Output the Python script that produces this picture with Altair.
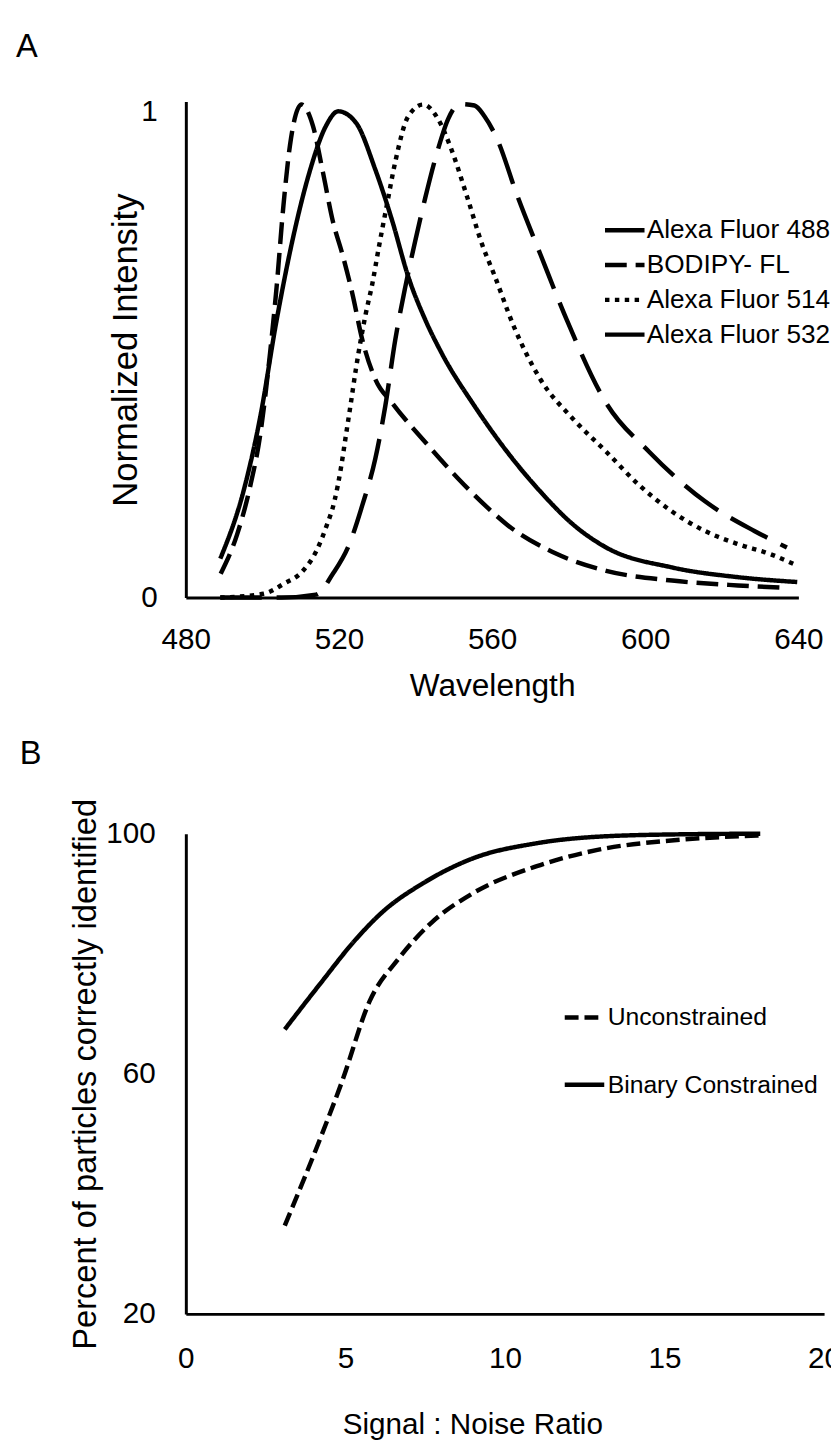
import altair as alt
import pandas as pd

FONT = "Liberation Sans"

# ---------------- Panel A: normalized emission spectra ----------------
dyes = ["Alexa Fluor 488", "BODIPY- FL", "Alexa Fluor 514", "Alexa Fluor 532"]

wl_488 = [489, 495.1, 499.4, 503.7, 508, 512.3, 516.6, 519.8, 524.4, 529.5, 533.9,
          538.1, 542.5, 546.8, 555.4, 563.9, 572.6, 581.2, 589.8, 607, 624.2, 639.7]
in_488 = [0.08, 0.22, 0.37, 0.57, 0.74, 0.875, 0.97, 1.0, 0.977, 0.88, 0.775,
          0.66, 0.572, 0.503, 0.394, 0.30, 0.218, 0.15, 0.103, 0.062, 0.042, 0.032]

wl_bod = [489.1, 493.4, 496.9, 499.4, 502, 503.7, 505.5, 507.2, 510.2, 513.2, 515.8,
          518.4, 520.9, 523.5, 526.1, 529.5, 533.9, 542.5, 551.1, 558.8, 563.9,
          576.8, 589.8, 607, 624.2, 637]
in_bod = [0.049, 0.13, 0.232, 0.333, 0.503, 0.638, 0.807, 0.93, 1.014, 0.97, 0.875,
          0.774, 0.706, 0.625, 0.53, 0.449, 0.40, 0.32, 0.245, 0.185, 0.15,
          0.09, 0.055, 0.035, 0.025, 0.02]

wl_514 = [489, 500.3, 505.5, 510.6, 514.1, 516.6, 518.8, 520.5, 521.8, 523.1, 524.4,
          525.7, 527, 528.7, 530.4, 532.5, 534.7, 538.1, 542, 545.9, 549.3, 553.6,
          557.4, 560.5, 565.7, 572.6, 581.2, 589.8, 598.3, 607, 615.6, 624.2, 632.8, 638.8]
in_514 = [0.0, 0.008, 0.028, 0.055, 0.096, 0.144, 0.198, 0.266, 0.333, 0.40, 0.469,
          0.53, 0.584, 0.645, 0.72, 0.807, 0.896, 0.99, 1.014, 0.984, 0.923, 0.821,
          0.726, 0.665, 0.557, 0.449, 0.367, 0.30, 0.232, 0.177, 0.137, 0.11, 0.089, 0.069]

wl_532 = [489, 505, 514, 518.4, 522.7, 526.1, 529.5, 532.1, 534.7, 537.3, 539.9,
          542.5, 545.9, 548.5, 551.5, 555.4, 558, 561.3, 566.5, 572.6, 579.5,
          589.8, 601, 615.6, 628.5, 637]
in_532 = [0.0, 0.0, 0.006, 0.049, 0.11, 0.19, 0.286, 0.394, 0.53, 0.638, 0.733,
          0.821, 0.923, 0.984, 1.015, 1.012, 0.99, 0.943, 0.828, 0.706, 0.571,
          0.40, 0.30, 0.198, 0.137, 0.103]

# ---------------- Panel B: identification accuracy ----------------
series_b = ["Unconstrained", "Binary Constrained"]
snr_unc = [3.1, 4.24, 4.9, 5.76, 6.67, 7.7, 9.0, 11.0, 12.9, 15.5, 18.0]
pct_unc = [34.7, 49.6, 58.8, 72.1, 79.2, 85.2, 90.1, 94.6, 97.3, 99.0, 99.7]
snr_bin = [3.1, 4.18, 5.36, 6.15, 7.45, 9.0, 10.98, 12.9, 15.5, 18.0]
pct_bin = [67.4, 74.8, 82.6, 86.9, 91.8, 95.9, 98.4, 99.5, 99.9, 100.0]

frames = []
for name, xs, ys in zip(dyes, [wl_488, wl_bod, wl_514, wl_532],
                        [in_488, in_bod, in_514, in_532]):
    frames.append(pd.DataFrame({"wl": xs, "v": ys, "dye": name}))
dfA = pd.concat(frames, ignore_index=True)

dfB = pd.concat([
    pd.DataFrame({"snr": snr_unc, "pct": pct_unc, "series": series_b[0]}),
    pd.DataFrame({"snr": snr_bin, "pct": pct_bin, "series": series_b[1]}),
], ignore_index=True)

axis_common = dict(
    domainColor="black", domainWidth=3, ticks=False, tickSize=0, grid=False,
    labelFont=FONT, labelFontSize=30, labelColor="black", labelFlush=False,
    titleFont=FONT, titleFontSize=32, titleColor="black", titleFontWeight="normal",
    format="d",
)

legend_common = dict(
    orient="none", title=None, padding=0,
    symbolType="M-2,0L2,0", symbolSize=400, symbolStrokeColor="black",
    symbolStrokeWidth=4.5, labelFont=FONT, labelColor="black",
    labelLimit=400,
)

chartA = alt.Chart(dfA).mark_line(
    color="black", strokeWidth=4.5, interpolate="monotone", strokeCap="butt"
).encode(
    x=alt.X("wl:Q", scale=alt.Scale(domain=[480, 640], nice=False, zero=False),
            axis=alt.Axis(values=[480, 520, 560, 600, 640], title="Wavelength",
                          labelPadding=28, titlePadding=16, **axis_common)),
    y=alt.Y("v:Q", scale=alt.Scale(domain=[0, 1.02], nice=False),
            axis=alt.Axis(values=[0, 1], title="Normalized Intensity",
                          labelPadding=29, titlePadding=-3,
                          **{**axis_common, "titleFontSize": 35})),
    strokeDash=alt.StrokeDash(
        "dye:N", sort=dyes,
        scale=alt.Scale(domain=dyes, range=[[1, 0], [22, 9], [4.5, 5.5], [42, 15]]),
        legend=alt.Legend(legendX=431, legendY=117, labelFontSize=26.5, rowPadding=8.2,
                          labelOffset=9, **legend_common)),
).properties(
    width=620, height=502,
    title=alt.TitleParams("A", anchor="start", frame="group", dx=-172, fontSize=33,
                          font=FONT, fontWeight="normal", color="black", offset=32),
)

chartB = alt.Chart(dfB).mark_line(
    color="black", strokeWidth=4.5, interpolate="monotone", strokeCap="butt"
).encode(
    x=alt.X("snr:Q", scale=alt.Scale(domain=[0, 20], nice=False),
            axis=alt.Axis(values=[0, 5, 10, 15, 20], title="Signal : Noise Ratio",
                          labelPadding=30, titlePadding=37, titleX=290,
                          **{**axis_common, "titleFontSize": 30})),
    y=alt.Y("pct:Q", scale=alt.Scale(domain=[20, 100], nice=False, zero=False),
            axis=alt.Axis(values=[20, 60, 100], title="Percent of particles correctly identified",
                          labelPadding=31, titlePadding=3,
                          **{**axis_common, "titleFontSize": 33})),
    strokeDash=alt.StrokeDash(
        "series:N", sort=series_b,
        scale=alt.Scale(domain=series_b, range=[[14, 6], [1, 0]]),
        legend=alt.Legend(legendX=391, legendY=173.5, labelFontSize=25, rowPadding=42,
                          labelOffset=11, **legend_common)),
).properties(
    width=646, height=486,
    title=alt.TitleParams("B", anchor="start", frame="group", dx=-168, fontSize=33,
                          font=FONT, fontWeight="normal", color="black", offset=28),
)

chart = alt.vconcat(chartA, chartB, spacing=37).resolve_scale(
    strokeDash="independent"
).resolve_legend(strokeDash="independent").properties(
    padding={"left": 8, "top": 14, "right": -10, "bottom": 0}
).configure_view(stroke=None)

chart.save("out.html", embed_options={"renderer": "svg", "actions": False})
